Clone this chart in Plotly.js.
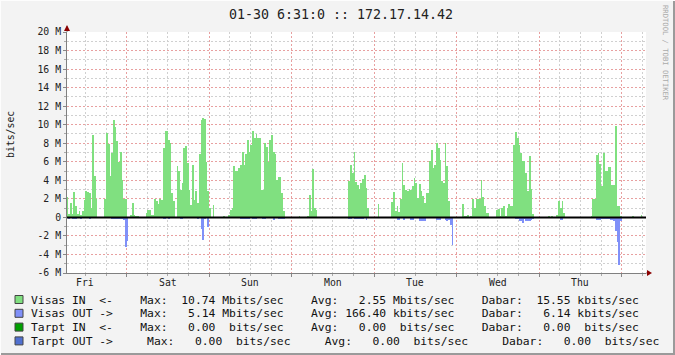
<!DOCTYPE html>
<html>
<head>
<meta charset="utf-8">
<script src="https://cdn.plot.ly/plotly-3.0.1.min.js"></script>
<style>
html,body{margin:0;padding:0;background:#F3F3F3;}
#chart{width:675px;height:355px;}
</style>
</head>
<body>
<div id="chart"></div>
<script>
// ---- DATA ----
// time axis: hours counted from Friday 00:00, one bar per 30 minutes
const startHour = 6.5;
const stepHours = 0.5;
const dayNames = ['Fri', 'Sat', 'Sun', 'Mon', 'Tue', 'Wed', 'Thu'];

// Visas IN (Mbits/sec)
const visasIn = [
  2.2, 0.4, 1.5, 0.4, 2.7, 1.2, 0.4, 0.7, 0.3, 0.7,
  1.9, 2.9, 2.7, 2.6, 1.0, 8.9, 4.5, 2.0, 0, 0,
  0, 0, 2.0, 9.1, 7.9, 4.5, 6.9, 10.5, 9.8, 8.2,
  6.0, 7.1, 4.0, 2.0, 2.0, 0, 0, 0.3, 1.6, 0.3,
  0.2, 0.2, 0, 0, 0, 0, 0.5, 0.8, 0.8, 0.3,
  0.25, 2.0, 1.8, 1.4, 2.0, 1.9, 7.5, 9.3, 9.3, 8.4,
  8.0, 2.65, 1.75, 0, 5.5, 5.0, 3.0, 3.7, 7.5, 7.7,
  5.9, 3.0, 1.3, 5.7, 1.9, 2.8, 1.5, 6.8, 10.5, 10.74,
  10.6, 6.0, 2.8, 1.0, 0, 1.3, 0, 0, 0, 0,
  0, 0.15, 0, 0, 0.25, 0.8, 1.0, 5.5, 5.0, 5.0,
  5.3, 5.7, 7.1, 5.7, 6.8, 8.4, 7.1, 7.8, 9.3, 8.6,
  9.0, 8.6, 8.6, 3.0, 3.0, 8.0, 7.6, 6.0, 8.4, 8.9,
  7.1, 6.8, 4.0, 4.4, 4.4, 2.65, 0.7, 0, 0, 0,
  0, 0, 0, 0, 0, 0.15, 0, 0, 0, 0,
  0.15, 2.4, 0.7, 5.2, 1.0, 0.8, 0, 0, 0, 0,
  0, 0, 0, 0, 0, 0, 0, 0, 0, 0,
  0, 0, 0, 0, 3.9, 5.7, 4.8, 7.1, 3.8, 3.5,
  3.1, 3.7, 4.1, 4.6, 3.2, 1.0, 0, 0, 0, 0,
  0, 1.4, 0, 0, 0, 0, 0, 0, 0, 1.7,
  2.7, 0.7, 1.2, 0.6, 2.0, 5.9, 3.5, 3.0, 2.9, 3.1,
  3.0, 3.4, 4.3, 3.7, 2.1, 3.6, 2.8, 2.3, 1.6, 2.65,
  2.65, 6.1, 7.3, 5.3, 5.7, 8.0, 7.5, 6.2, 3.9, 3.7,
  8.0, 5.5, 1.75, 0, 0, 0, 0, 0, 0, 0,
  1.4, 0.15, 0.1, 0.25, 0, 0.15, 2.0, 1.0, 2.0, 2.0,
  2.0, 4.0, 2.2, 1.2, 0.5, 0.5, 0, 0, 0, 0,
  0.8, 0.9, 0.2, 1.0, 1.2, 0.2, 1.0, 1.4, 1.2, 1.2,
  7.85, 9.2, 8.6, 7.85, 7.0, 6.1, 6.1, 4.8, 2.8, 6.6,
  3.1, 0.4, 0, 0, 0, 0, 0, 0, 0, 0,
  0.15, 0, 0.15, 0, 0, 0.3, 1.8, 1.0, 1.8, 0.5,
  0, 0, 0, 0, 0, 0, 0, 0, 0, 0,
  0, 0, 0, 0, 0, 0.2, 2.0, 2.0, 6.7, 7.0,
  5.8, 3.4, 7.0, 5.0, 5.0, 5.4, 5.4, 3.5, 3.5, 9.9,
  1.2, 1.2, 0.15, 0, 0, 0, 0, 0, 0, 0.15,
  0, 0, 0, 0, 0.25, 0
];

// Visas OUT (Mbits/sec, drawn below zero)
const visasOut = [
  0, 0.15, 0.1, 0.15, 0.15, 0.15, 0, 0, 0.15, 0,
  0, 0, 0, 0.15, 0, 0, 0, 0, 0, 0,
  0, 0, 0, 0, 0, 0, 0.2, 0.2, 0.15, 0.2,
  0.15, 0.2, 0.15, 0.3, 3.15, 2.5, 0, 0, 0, 0,
  0, 0, 0, 0, 0, 0, 0, 0, 0, 0,
  0, 0, 0, 0, 0, 0, 0.15, 0.15, 0, 0.2,
  0, 0, 0, 0, 0, 0, 0.15, 0.15, 0, 0,
  0, 0, 0, 0, 0, 0, 0.15, 0, 1.3, 2.4,
  0.15, 0, 1.0, 0, 0, 0, 0, 0, 0, 0,
  0, 0, 0, 0, 0, 0, 0, 0, 0, 0,
  0, 0.15, 0.15, 0.15, 0.15, 0.15, 0.15, 0, 0.2, 0.2,
  0.2, 0, 0, 0, 0.15, 0.15, 0, 0, 0.1, 0,
  0.25, 0, 0, 0.2, 0.15, 0.15, 0.15, 0, 0, 0,
  0, 0, 0, 0, 0, 0, 0, 0, 0, 0,
  0, 0, 0, 0, 0, 0, 0, 0, 0, 0,
  0, 0, 0, 0, 0, 0, 0, 0, 0, 0,
  0, 0, 0, 0, 0.15, 0.15, 0, 0.15, 0.15, 0.15,
  0.15, 0.15, 0.15, 0, 0.3, 0, 0, 0, 0, 0,
  0, 0, 0, 0, 0, 0, 0, 0, 0, 0,
  0, 0, 0.25, 0.25, 0, 0, 0.25, 0, 0, 0,
  0.25, 0.25, 0, 0, 0, 0.35, 0.35, 0.35, 0.4, 0,
  0, 0, 0, 0, 0, 0.3, 0.3, 0.3, 0, 0,
  0.3, 0.4, 0.3, 0.85, 3.0, 0, 0, 0, 0, 0,
  0, 0, 0, 0, 0, 0, 0, 0, 0, 0,
  0, 0, 0, 0, 0, 0, 0, 0, 0, 0,
  0, 0, 0, 0, 0, 0, 0, 0, 0, 0,
  0, 0.15, 0.2, 0.35, 0.4, 0.65, 0.2, 0.35, 0.35, 0.35,
  0.25, 0.2, 0, 0, 0, 0, 0, 0, 0, 0,
  0, 0, 0, 0, 0, 0, 0, 0.3, 0.3, 0,
  0, 0, 0, 0, 0, 0, 0, 0, 0, 0,
  0, 0, 0, 0, 0, 0, 0.1, 0.1, 0.25, 0.3,
  0.3, 0.15, 0.15, 0.15, 0.15, 0.15, 0.3, 0.3, 0.4, 1.5,
  2.7, 5.14, 0.4, 0, 0, 0, 0, 0, 0, 0,
  0, 0, 0, 0, 0, 0
];

const yTickVals = [-6, -4, -2, 0, 2, 4, 6, 8, 10, 12, 14, 16, 18, 20];
const yTickText = ['-6 M', '-4 M', '-2 M', '0', '2 M', '4 M', '6 M', '8 M', '10 M', '12 M', '14 M', '16 M', '18 M', '20 M'];

// legend table
const legendLabels = ['Visas IN  <-', 'Visas OUT ->', 'Tarpt IN  <-', 'Tarpt OUT ->'];
const legendColors = ['#80E080', '#8090F8', '#00A000', '#5070D0'];
const maxVals  = ['10.74', '5.14', '0.00', '0.00'];
const maxUnits = ['Mbits/sec', 'Mbits/sec', ' bits/sec', ' bits/sec'];
const avgVals  = ['2.55', '166.40', '0.00', '0.00'];
const avgUnits = ['Mbits/sec', 'kbits/sec', ' bits/sec', ' bits/sec'];
const curVals  = ['15.55', '6.14', '0.00', '0.00'];
const curUnits = ['kbits/sec', 'kbits/sec', ' bits/sec', ' bits/sec'];

const titleText = '01-30 6:31:0 :: 172.17.14.42';

// ---- LAYOUT HELPERS ----
const W = 675, H = 355, L = 67, R = 646, T = 32, B = 273;
const px2x = p => (p - L) / (R - L);
const py2y = p => (B - p) / (B - T);
const mono = 'DejaVu Sans Mono, Liberation Mono, monospace';

const hours = visasIn.map((_, i) => startHour + stepHours * (i + 0.5));

const traces = [
  {type: 'bar', name: 'Visas IN', x: hours, y: visasIn,
   marker: {color: legendColors[0], line: {width: 0}}, hoverinfo: 'skip'},
  {type: 'bar', name: 'Visas OUT', x: hours, y: visasOut.map(v => -v),
   marker: {color: legendColors[1], line: {width: 0}}, hoverinfo: 'skip'}
];

const annotations = [];
const shapes = [];

// day labels at noon
dayNames.forEach((d, k) => {
  annotations.push({x: 12 + 24 * k, xref: 'x', y: py2y(282), yref: 'paper',
    text: d, showarrow: false, xanchor: 'center', yanchor: 'middle',
    font: {family: mono, size: 9.8, color: '#222'}});
});

// y unit label
annotations.push({x: px2x(10), xref: 'paper', y: py2y(135), yref: 'paper',
  text: 'bits/sec', showarrow: false, textangle: -90, xanchor: 'center', yanchor: 'middle',
  font: {family: mono, size: 9.8, color: '#222'}});

// watermark
annotations.push({x: px2x(666), xref: 'paper', y: py2y(53), yref: 'paper',
  text: 'RRDTOOL / TOBI OETIKER', showarrow: false, textangle: 90, xanchor: 'center', yanchor: 'middle',
  font: {family: mono, size: 7.2, color: '#AAAAAA'}});

// legend rows
function legendRow(k) {
  const labelPad = k === 3 ? 17 : 16;
  const gap = ' '.repeat(k === 3 ? 5 : 4);
  return legendLabels[k].padEnd(labelPad) + 'Max:' + maxVals[k].padStart(7) + ' ' + maxUnits[k].padEnd(9) + gap +
         'Avg:' + avgVals[k].padStart(7) + ' ' + avgUnits[k].padEnd(9) + gap +
         'Dabar:' + curVals[k].padStart(7) + ' ' + curUnits[k];
}
legendLabels.forEach((lab, k) => {
  const yc = 299.5 + 13.8 * k;
  annotations.push({x: px2x(28.5), xref: 'paper', y: py2y(yc), yref: 'paper',
    text: legendRow(k).replace(/ /g, '\u00a0'), showarrow: false, xanchor: 'left', yanchor: 'middle',
    font: {family: mono, size: 11.35, color: '#111'}});
  shapes.push({type: 'rect', xref: 'paper', yref: 'paper',
    x0: px2x(15), x1: px2x(23), y0: py2y(yc - 4), y1: py2y(yc + 4),
    fillcolor: legendColors[k], line: {color: '#444', width: 1}});
});

// zero line
shapes.push({type: 'line', xref: 'paper', yref: 'y', x0: 0, x1: 1, y0: 0, y1: 0,
  line: {color: '#000', width: 2}, layer: 'above'});
// axis extensions + arrows
shapes.push({type: 'line', xref: 'paper', yref: 'paper', x0: 0, x1: 0, y0: py2y(T), y1: py2y(26),
  line: {color: '#808080', width: 1}});
shapes.push({type: 'line', xref: 'paper', yref: 'paper', x0: 1, x1: px2x(648), y0: 0, y1: 0,
  line: {color: '#808080', width: 1}});
shapes.push({type: 'path', xref: 'paper', yref: 'paper', xsizemode: 'pixel', ysizemode: 'pixel',
  xanchor: 0, yanchor: 1, path: 'M-3,1 L3,1 L0,7 Z', fillcolor: '#8B0000', line: {width: 0}});
shapes.push({type: 'path', xref: 'paper', yref: 'paper', xsizemode: 'pixel', ysizemode: 'pixel',
  xanchor: 1, yanchor: 0, path: 'M1,-3 L1,3 L6,0 Z', fillcolor: '#8B0000', line: {width: 0}});
// frame of the image
shapes.push({type: 'line', xref: 'paper', yref: 'paper', x0: px2x(0), x1: px2x(W), y0: py2y(H - 1), y1: py2y(H - 1),
  line: {color: '#9A9A9A', width: 2}});
shapes.push({type: 'line', xref: 'paper', yref: 'paper', x0: px2x(W - 1), x1: px2x(W - 1), y0: py2y(0), y1: py2y(H),
  line: {color: '#9A9A9A', width: 2}});
shapes.push({type: 'line', xref: 'paper', yref: 'paper', x0: px2x(0), x1: px2x(W), y0: py2y(0.5), y1: py2y(0.5),
  line: {color: '#FDFDFD', width: 1}});
shapes.push({type: 'line', xref: 'paper', yref: 'paper', x0: px2x(0.5), x1: px2x(0.5), y0: py2y(0), y1: py2y(H),
  line: {color: '#FDFDFD', width: 1}});

const layout = {
  width: W, height: H,
  margin: {l: L, r: W - R, t: T, b: H - B, pad: 0},
  paper_bgcolor: '#F3F3F3',
  plot_bgcolor: '#FFFFFF',
  showlegend: false,
  barmode: 'overlay',
  bargap: 0,
  title: {text: titleText, x: 341 / W, xref: 'container', xanchor: 'center',
          y: 1 - 14 / H, yref: 'container', yanchor: 'middle',
          font: {family: mono, size: 13.3, color: '#222'}},
  xaxis: {
    range: [6.63, 175.07], tick0: 0, dtick: 24,
    showgrid: true, gridcolor: '#E8A0A0', griddash: '2px,2px', gridwidth: 1,
    showticklabels: false, ticks: 'outside', ticklen: 3, tickcolor: '#888',
    minor: {dtick: 6, tick0: 0, showgrid: true, gridcolor: '#D0D0D0', griddash: '2px,2px', gridwidth: 1,
            ticks: 'outside', ticklen: 2, tickcolor: '#AAA'},
    showline: true, linecolor: '#808080', linewidth: 1,
    zeroline: false, fixedrange: true
  },
  yaxis: {
    range: [-6, 20], tickmode: 'array', tickvals: yTickVals, ticktext: yTickText,
    showgrid: true, gridcolor: '#E8A0A0', griddash: '2px,2px', gridwidth: 1,
    ticks: 'outside', ticklen: 3, tickcolor: '#888',
    minor: {dtick: 1, tick0: 0, showgrid: true, gridcolor: '#D0D0D0', griddash: '2px,2px', gridwidth: 1,
            ticks: 'outside', ticklen: 2, tickcolor: '#AAA'},
    tickfont: {family: mono, size: 9.8, color: '#222'},
    showline: true, linecolor: '#808080', linewidth: 1,
    zeroline: false, fixedrange: true
  },
  annotations: annotations,
  shapes: shapes
};

Plotly.newPlot('chart', traces, layout, {staticPlot: true, displayModeBar: false});
</script>
</body>
</html>
